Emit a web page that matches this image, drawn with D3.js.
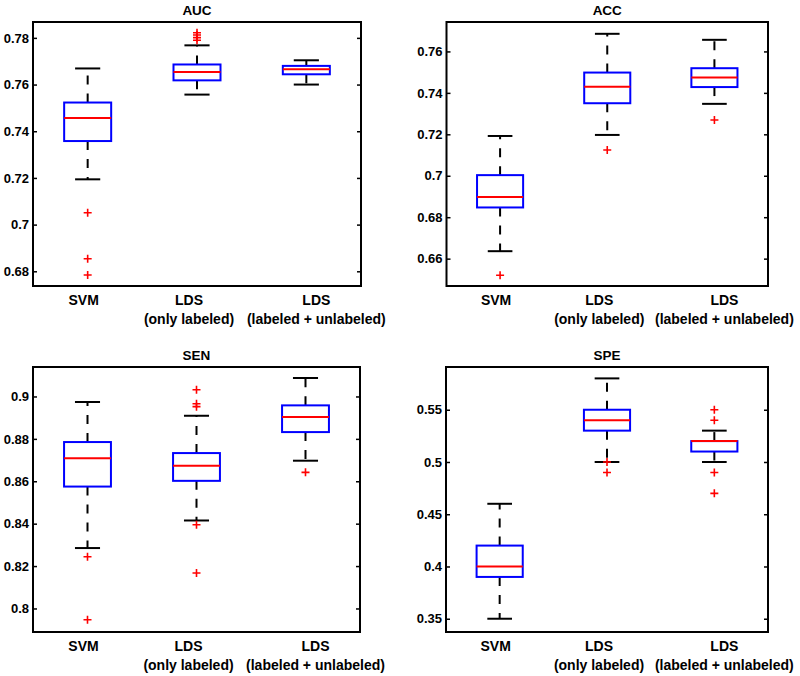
<!DOCTYPE html>
<html>
<head>
<meta charset="utf-8">
<script src="https://cdn.jsdelivr.net/npm/d3@7"></script>
<style>
  html, body { margin: 0; padding: 0; background: #fff; }
  svg text { font-family: "Liberation Sans", Arial, Helvetica, sans-serif; font-weight: bold; fill: #000; }
</style>
</head>
<body>
<svg id="chart" width="800" height="676"></svg>
<script>
// ---------- data ----------
const categories = ["SVM", "LDS\n(only labeled)", "LDS\n(labeled + unlabeled)"];

// stats per group: [lower whisker, q1, median, q3, upper whisker]
const aucStats = [
  [0.7194, 0.7358, 0.7457, 0.7523, 0.7669],
  [0.7557, 0.7618, 0.7654, 0.7686, 0.7768],
  [0.7600, 0.7644, 0.7666, 0.7680, 0.7704]
];
const aucOutliers = [[0.7051, 0.6854, 0.6784], [0.7790, 0.7801, 0.7812, 0.7822], []];
const aucTicks = [0.68, 0.70, 0.72, 0.74, 0.76, 0.78];
const aucTickLabels = ["0.68", "0.7", "0.72", "0.74", "0.76", "0.78"];
const aucDomain = [0.6737, 0.7868];

const accStats = [
  [0.6636, 0.6847, 0.6898, 0.7003, 0.7192],
  [0.7197, 0.7350, 0.7430, 0.7498, 0.7685],
  [0.7347, 0.7428, 0.7474, 0.7519, 0.7656]
];
const accOutliers = [[0.6520], [0.7124], [0.7269]];
const accTicks = [0.66, 0.68, 0.70, 0.72, 0.74, 0.76];
const accTickLabels = ["0.66", "0.68", "0.7", "0.72", "0.74", "0.76"];
const accDomain = [0.6468, 0.7742];

const senStats = [
  [0.8285, 0.8575, 0.8709, 0.8785, 0.8974],
  [0.8415, 0.8602, 0.8673, 0.8733, 0.8909],
  [0.8697, 0.8832, 0.8903, 0.8958, 0.9087]
];
const senOutliers = [[0.8244, 0.7947], [0.9032, 0.8966, 0.8952, 0.8395, 0.8167], [0.8642]];
const senTicks = [0.80, 0.82, 0.84, 0.86, 0.88, 0.90];
const senTickLabels = ["0.8", "0.82", "0.84", "0.86", "0.88", "0.9"];
const senDomain = [0.7889, 0.9139];

const speStats = [
  [0.35, 0.39, 0.40, 0.42, 0.46],
  [0.50, 0.53, 0.54, 0.55, 0.58],
  [0.50, 0.51, 0.52, 0.52, 0.53]
];
const speOutliers = [[], [0.50, 0.49], [0.55, 0.54, 0.49, 0.47]];
const speTicks = [0.35, 0.40, 0.45, 0.50, 0.55];
const speTickLabels = ["0.35", "0.4", "0.45", "0.5", "0.55"];
const speDomain = [0.3373, 0.5909];

const panelTitles = ["AUC", "ACC", "SEN", "SPE"];

// ---------- layout ----------
const panels = [
  { title: panelTitles[0], stats: aucStats, outliers: aucOutliers, ticks: aucTicks, labels: aucTickLabels, domain: aucDomain, x0: 33, x1: 361, y0: 22, y1: 286 },
  { title: panelTitles[1], stats: accStats, outliers: accOutliers, ticks: accTicks, labels: accTickLabels, domain: accDomain, x0: 446.5, x1: 768, y0: 22, y1: 286 },
  { title: panelTitles[2], stats: senStats, outliers: senOutliers, ticks: senTicks, labels: senTickLabels, domain: senDomain, x0: 33, x1: 360, y0: 367, y1: 632 },
  { title: panelTitles[3], stats: speStats, outliers: speOutliers, ticks: speTicks, labels: speTickLabels, domain: speDomain, x0: 446, x1: 768, y0: 367, y1: 632 }
];
const labelDx = [-4, -8, 10];
const boxW = 0.43, capW = 0.23;
const BLUE = "#0000ff", RED = "#ff0000";

const svg = d3.select("#chart");

panels.forEach(p => {
  const g = svg.append("g");
  const x = d3.scaleLinear().domain([0.5, 3.5]).range([p.x0, p.x1]);
  const y = d3.scaleLinear().domain(p.domain).range([p.y1, p.y0]);
  const unit = x(1) - x(0);

  // axes (ticks inward on left and right)
  const yl = d3.axisLeft(y).tickValues(p.ticks).tickFormat((d, i) => p.labels[i]).tickSizeInner(-4).tickSizeOuter(0).tickPadding(4);
  const yr = d3.axisRight(y).tickValues(p.ticks).tickFormat("").tickSizeInner(-4).tickSizeOuter(0);
  const gl = g.append("g").attr("transform", `translate(${p.x0},0)`).call(yl);
  const gr = g.append("g").attr("transform", `translate(${p.x1},0)`).call(yr);
  [gl, gr].forEach(a => {
    a.select(".domain").remove();
    a.selectAll(".tick line").attr("stroke", "#000").attr("stroke-width", 1.5);
  });
  gl.selectAll(".tick text").style("font-size", "13px").attr("fill", "#000");

  // frame
  g.append("rect").attr("x", p.x0).attr("y", p.y0).attr("width", p.x1 - p.x0).attr("height", p.y1 - p.y0)
    .attr("fill", "none").attr("stroke", "#000").attr("stroke-width", 2);

  // title
  g.append("text").attr("x", (p.x0 + p.x1) / 2).attr("y", p.y0 - 7).attr("text-anchor", "middle")
    .style("font-size", "13.5px").text(p.title);

  // x labels
  categories.forEach((c, i) => {
    const lines = c.split("\n");
    const t = g.append("text").attr("text-anchor", "middle").style("font-size", "14px");
    lines.forEach((ln, j) => {
      t.append("tspan").attr("x", x(i + 1) + labelDx[i]).attr("y", p.y1 + 19 + j * 19).text(ln);
    });
  });

  // boxes
  p.stats.forEach((s, i) => {
    const cx = x(i + 1);
    const [lo, q1, med, q3, hi] = s;
    const bg = g.append("g");
    // whiskers (dashed)
    bg.append("line").attr("x1", cx).attr("x2", cx).attr("y1", y(q3)).attr("y2", y(hi))
      .attr("stroke", "#000").attr("stroke-width", 2).attr("stroke-dasharray", "9,9");
    bg.append("line").attr("x1", cx).attr("x2", cx).attr("y1", y(q1)).attr("y2", y(lo))
      .attr("stroke", "#000").attr("stroke-width", 2).attr("stroke-dasharray", "9,9");
    // caps
    [lo, hi].forEach(v => {
      bg.append("line").attr("x1", cx - capW * unit / 2).attr("x2", cx + capW * unit / 2)
        .attr("y1", y(v)).attr("y2", y(v)).attr("stroke", "#000").attr("stroke-width", 2);
    });
    // box
    bg.append("rect").attr("x", cx - boxW * unit / 2).attr("width", boxW * unit)
      .attr("y", y(q3)).attr("height", y(q1) - y(q3))
      .attr("fill", "none").attr("stroke", BLUE).attr("stroke-width", 2);
    // median
    bg.append("line").attr("x1", cx - boxW * unit / 2).attr("x2", cx + boxW * unit / 2)
      .attr("y1", y(med)).attr("y2", y(med)).attr("stroke", RED).attr("stroke-width", 2);
    // outliers
    p.outliers[i].forEach(v => {
      const oy = y(v);
      bg.append("path").attr("d", `M${cx - 4},${oy}H${cx + 4}M${cx},${oy - 4}V${oy + 4}`)
        .attr("stroke", RED).attr("stroke-width", 1.6).attr("fill", "none");
    });
  });
});
</script>
</body>
</html>
